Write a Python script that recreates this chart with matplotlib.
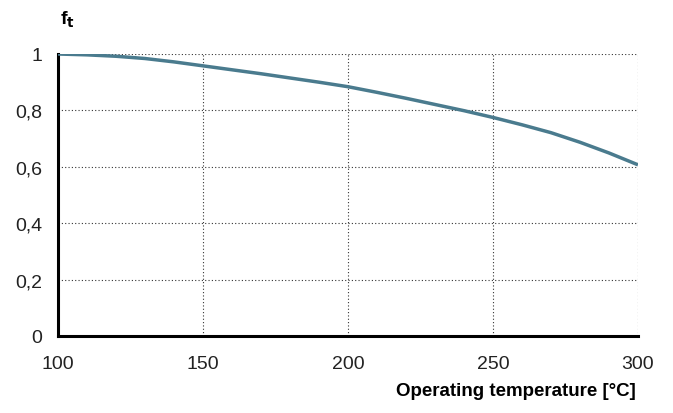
import matplotlib.pyplot as plt
import numpy as np

# Derating factor vs operating temperature
temperature = [100, 110, 120, 130, 140, 150, 160, 170, 180, 190, 200,
               210, 220, 230, 240, 250, 260, 270, 280, 290, 300]
factor = [1.000, 0.997, 0.992, 0.984, 0.972, 0.958, 0.944, 0.930, 0.915, 0.900, 0.884,
          0.864, 0.843, 0.821, 0.799, 0.775, 0.749, 0.721, 0.687, 0.649, 0.607]

x_ticks = [100, 150, 200, 250, 300]
y_ticks = [0, 0.2, 0.4, 0.6, 0.8, 1.0]
y_tick_labels = ['0', '0,2', '0,4', '0,6', '0,8', '1']

plt.rcParams['font.family'] = ['Liberation Sans', 'DejaVu Sans']

fig = plt.figure(figsize=(6.73, 4.14), dpi=100)
ax = fig.add_axes([58 / 673, (414 - 337) / 414, (638 - 58) / 673, (337 - 55) / 414])

ax.plot(temperature, factor, color='#4a7b8e', linewidth=2.5, solid_capstyle='butt', zorder=3)

ax.set_xlim(100, 300)
ax.set_ylim(0, 1)
ax.set_xticks(x_ticks)
ax.set_yticks(y_ticks)
ax.set_yticklabels(y_tick_labels)
ax.tick_params(length=0, labelsize=14, colors='#222222')
ax.tick_params(axis='x', pad=14)
ax.tick_params(axis='y', pad=11.5)

ax.grid(True, linestyle=(0, (1, 2)), color='#333333', linewidth=0.8)

for side in ['top', 'right']:
    ax.spines[side].set_visible(False)
for side in ['left', 'bottom']:
    ax.spines[side].set_linewidth(2.2)
    ax.spines[side].set_color('black')

fig.text(60 / 673, 1 - 20 / 414, r'f$_\mathbf{t}$', fontsize=14, fontweight='bold', ha='left', va='center')
fig.text(636 / 673, 1 - 392 / 414, 'Operating temperature [°C]', fontsize=13.5, fontweight='bold',
         ha='right', va='center')

fig.savefig('out.png', dpi=100)
